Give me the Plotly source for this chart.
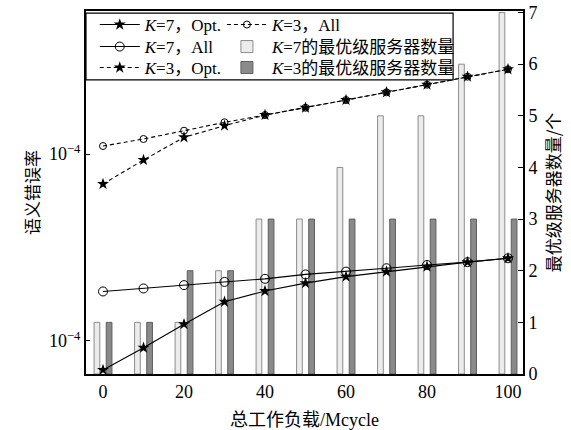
import plotly.graph_objects as go

# Total workload (Mcycle)
workload = [0, 10, 20, 30, 40, 50, 60, 70, 80, 90, 100]

# Semantic error rate
err_k7_opt = [7.0e-5, 9.2e-5, 1.23e-4, 1.62e-4, 1.85e-4, 2.04e-4, 2.21e-4, 2.35e-4, 2.50e-4, 2.64e-4, 2.77e-4]
err_k7_all = [1.84e-4, 1.91e-4, 1.99e-4, 2.07e-4, 2.15e-4, 2.27e-4, 2.35e-4, 2.45e-4, 2.55e-4, 2.64e-4, 2.77e-4]
err_k3_opt = [6.91e-4, 9.29e-4, 1.228e-3, 1.417e-3, 1.616e-3, 1.768e-3, 1.944e-3, 2.138e-3, 2.348e-3, 2.591e-3, 2.838e-3]
err_k3_all = [1.103e-3, 1.203e-3, 1.332e-3, 1.477e-3, 1.616e-3, 1.768e-3, 1.944e-3, 2.138e-3, 2.348e-3, 2.591e-3, 2.838e-3]

# Number of optimal-level servers
servers_k7 = [1, 1, 1, 2, 3, 3, 4, 5, 5, 6, 7]
servers_k3 = [1, 1, 2, 2, 3, 3, 3, 3, 3, 3, 3]

left_ticks = [1e-4, 1e-3]
left_ticktext = ["10<sup>−4</sup>", "10<sup>−4</sup>"]
right_ticks = [0, 1, 2, 3, 4, 5, 6, 7]
x_ticks = [0, 20, 40, 60, 80, 100]

SERIF = "Liberation Serif, Noto Sans CJK SC, serif"
CJK = "Noto Sans CJK SC, sans-serif"

fig = go.Figure()

# Each legend entry sits in its own legend box so the 2x3 key can be laid out tightly
fig.add_trace(go.Scatter(
    x=workload, y=err_k7_opt, yaxis="y2", mode="lines+markers",
    name="<i>K</i>=7，Opt.", legend="legend", showlegend=True,
    line=dict(color="black", width=1.1),
    marker=dict(symbol="star", size=9, color="black"),
))
fig.add_trace(go.Scatter(
    x=workload, y=err_k3_all, yaxis="y2", mode="lines+markers",
    name="<i>K</i>=3，All", legend="legend4",
    line=dict(color="black", width=1.1, dash="4px,3px"),
    marker=dict(symbol="circle-open", size=7, color="black", line=dict(width=1)),
))
fig.add_trace(go.Scatter(
    x=workload, y=err_k7_all, yaxis="y2", mode="lines+markers",
    name="<i>K</i>=7，All", legend="legend2",
    line=dict(color="black", width=1.1),
    marker=dict(symbol="circle-open", size=9, color="black", line=dict(width=1)),
))
fig.add_trace(go.Bar(
    x=workload, y=servers_k7, yaxis="y", name="<i>K</i>=7的最优级服务器数量",
    legend="legend5",
    marker=dict(color="#ececec", line=dict(color="#8c8c8c", width=1)),
))
fig.add_trace(go.Scatter(
    x=workload, y=err_k3_opt, yaxis="y2", mode="lines+markers",
    name="<i>K</i>=3，Opt.", legend="legend3",
    line=dict(color="black", width=1.1, dash="4px,3px"),
    marker=dict(symbol="star", size=9, color="black"),
))
fig.add_trace(go.Bar(
    x=workload, y=servers_k3, yaxis="y", name="<i>K</i>=3的最优级服务器数量",
    legend="legend6",
    marker=dict(color="#8a8a8a", line=dict(color="#5e5e5e", width=1)),
))

legend_common = dict(
    orientation="v", bgcolor="rgba(0,0,0,0)", borderwidth=0,
    font=dict(family=SERIF, size=17, color="black"),
    itemwidth=40, tracegroupgap=0, yanchor="middle", xanchor="left",
    itemclick=False, itemdoubleclick=False,
)
col_x = [0.02, 0.311]
row_y = [0.9614, 0.9008, 0.8430]

fig.update_layout(
    width=571, height=430,
    showlegend=True,
    margin=dict(l=86, r=48, t=11, b=56, autoexpand=False),
    paper_bgcolor="white", plot_bgcolor="white",
    barmode="group", bargap=0.4, bargroupgap=0.53,
    font=dict(family=SERIF, size=18, color="black"),
    legend=dict(x=col_x[0], y=row_y[0], **legend_common),
    legend2=dict(x=col_x[0], y=row_y[1], **legend_common),
    legend3=dict(x=col_x[0], y=row_y[2], **legend_common),
    legend4=dict(x=col_x[1], y=row_y[0], **legend_common),
    legend5=dict(x=col_x[1], y=row_y[1], **legend_common),
    legend6=dict(x=col_x[1], y=row_y[2], **legend_common),
    xaxis=dict(
        range=[-4.2, 103.7], tickvals=x_ticks, ticks="", automargin=False,
        showline=True, linecolor="black", linewidth=2, mirror=True,
        showgrid=False, zeroline=False,
        tickfont=dict(family=SERIF, size=18),
        title=dict(text="总工作负载/Mcycle", font=dict(family=SERIF, size=18), standoff=14),
    ),
    yaxis=dict(
        side="right", range=[0, 7.03], tickvals=right_ticks, automargin=False,
        ticks="inside", ticklen=5, tickcolor="black",
        showline=True, linecolor="black", linewidth=2,
        showgrid=False, zeroline=False,
        tickfont=dict(family=SERIF, size=18),
        title=dict(text="最优级服务器数量/个", font=dict(family=CJK, size=17), standoff=12),
    ),
    yaxis2=dict(
        type="log", overlaying="y", side="left", range=[-4.1765, -2.2353],
        tickvals=left_ticks, ticktext=left_ticktext, automargin=False,
        ticks="inside", ticklen=4, tickcolor="black",
        showline=True, linecolor="black", linewidth=2,
        showgrid=False, zeroline=False,
        tickfont=dict(family=SERIF, size=18),
        title=dict(text="语义错误率", font=dict(family=CJK, size=17), standoff=5),
    ),
    shapes=[dict(
        type="rect", xref="paper", yref="paper",
        x0=0.0, x1=0.84, y0=0.81, y1=0.994,
        line=dict(color="black", width=1.2), fillcolor="white", layer="above",
    )],
)

fig.write_html("out.html")
